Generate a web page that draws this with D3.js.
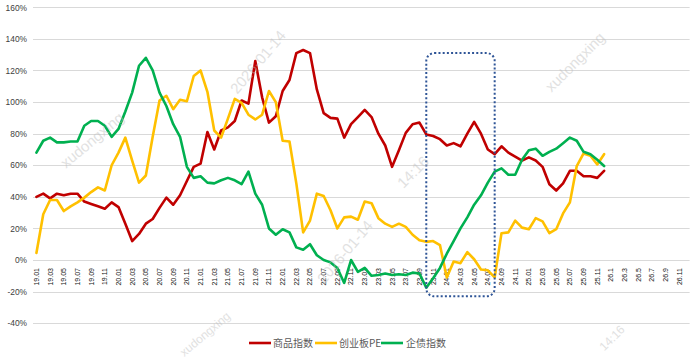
<!DOCTYPE html>
<html><head><meta charset="utf-8">
<script src="https://cdn.jsdelivr.net/npm/d3@7"></script>
<style>body{margin:0;background:#fff}svg{display:block}</style>
</head><body><svg id="c" width="695" height="360"></svg>
<script>
// ---- data ----
const seriesNames = ["商品指数", "创业板PE", "企债指数"];
const seriesColors = ["#C00000", "#FFC000", "#00B050"];
// monthly values (%), 2019-01 .. 2025-12
const commodity = [40,42,39,42,41,42,42,37,35.5,34,32.5,36.5,
  33.5,23,12,16.5,23,26,33,39.5,35,41,50,59,
  61,81,70,82,84,88,101,99,126,103,87,91,
  107,114,131,133,131,108,93,90,89.5,77.5,86,90.5,
  95,90.5,80,72.5,59,69.5,80.5,86,87,79.5,78.5,76.5,
  72.5,74,72,80,87.5,80,70,67,72,68,65.5,63,
  65,63,59,48,44,48.5,56.5,56.5,53,53,52,56.5];
const gemPE = [4.5,29,38,38,31,34,36.5,39.5,43,46,44,60,
  68,77.5,63,49,53.5,78,101,104,95.5,101.5,100.5,116.5,
  120,106.5,82,77.5,89.5,102,99.5,92,89,92,107,100,
  75.5,75,48.5,17.5,25,42,40.5,31.5,20,27,27.5,25.5,
  37,36,26.5,23,21,23,21,16,12.5,11.5,12,9.5,
  -11,-1,-2,5,0.5,-6,-6.5,-11,17,17.5,25,20.5,
  19.5,26.5,24.5,17,19.5,29.5,36.5,59.5,67.5,66,60.5,67];
const corpBond = [68,75.5,77.5,74.5,74.5,75,75,85,88,88,85,78,
  83,94,106,123,128,120,106,97.5,86,78,59,52,
  53,49,48.5,50.5,52,50.5,48,56,42,35,20,16,
  19.5,17.5,8,6.5,10,3,0,-1.5,-5,-14.5,0,-7.5,
  -5,-10,-9.5,-8.5,-9.5,-9,-9.5,-8,-8.5,-17.5,-11.5,-5,
  4,12,20,27,35,41,49,56,58,54,54,63.5,
  69.5,70.5,66,68.5,70.5,74,77.5,75.5,68.5,67,63.5,59.5];
const yTicks = [-40,-20,0,20,40,60,80,100,120,140,160];
const tickLabels = ["19.01","19.03","19.05","19.07","19.09","19.11",
  "20.01","20.03","20.05","20.07","20.09","20.11",
  "21.01","21.03","21.05","21.07","21.09","21.11",
  "22.01","22.03","22.05","22.07","22.09","22.11",
  "23.01","23.03","23.05","23.07","23.09","23.11",
  "24.01","24.03","24.05","24.07","24.09","24.11",
  "25.01","25.03","25.05","25.07","25.09","25.11",
  "26.1","26.3","26.5","26.7","26.9","26.11"];
const years = [2019,2020,2021,2022,2023,2024,2025,2026];
const highlight = {from: "2023-10", to: "2024-08", hi: 131, lo: -23};
const watermarks = [
  {t: "xudongxing", x: 92, y: 140, a: -40, s: 15},
  {t: "2026-01-14", x: 258, y: 62, a: -50, s: 15},
  {t: "14:16", x: 413, y: 172, a: -45, s: 15},
  {t: "2026-01-14", x: 345, y: 252, a: -50, s: 15},
  {t: "xudongxing", x: 575, y: 62, a: -45, s: 15},
  {t: "xudongxing", x: 205, y: 334, a: -40, s: 12},
  {t: "14:16", x: 612, y: 338, a: -45, s: 12}
];

// ---- chart ----
(function () {
const categories = [];
years.forEach(yr => { for (let m = 1; m <= 12; m++) categories.push(yr + "-" + String(m).padStart(2, "0")); });

const svg = d3.select("#c");
const pL = 33, pR = 689.6, pT = 7.3, pB = 323.2;
const x = d3.scaleBand().domain(categories).range([pL, pR]).padding(0);
const y = d3.scaleLinear().domain([-40, 160]).range([pB, pT]);
const cx = c => x(c) + x.bandwidth() / 2;

// gridlines
svg.append("g").selectAll("line").data(yTicks).join("line")
  .attr("x1", pL).attr("x2", pR)
  .attr("y1", d => Math.round(y(d)) + 0.5).attr("y2", d => Math.round(y(d)) + 0.5)
  .attr("stroke", "#d9d9d9").attr("stroke-width", 1);

// y labels
const yAxis = d3.axisLeft(y).tickValues(yTicks).tickFormat(d => d + "%").tickSize(0).tickPadding(0);
const gy = svg.append("g").attr("transform", "translate(27,0)").call(yAxis);
gy.select(".domain").remove();
gy.selectAll("text").attr("font-family", "Liberation Sans, Arial, sans-serif")
  .attr("font-size", "8.4px").attr("fill", "#404040");

// x labels
const tickCats = categories.filter((c, i) => i % 2 === 0);
const xAxis = d3.axisBottom(x).tickValues(tickCats)
  .tickFormat(c => tickLabels[categories.indexOf(c) / 2]).tickSize(0).tickPadding(0);
const gx = svg.append("g").attr("transform", `translate(0,${y(0)})`).call(xAxis);
gx.select(".domain").remove();
gx.selectAll("text")
  .attr("font-family", "Liberation Sans, Arial, sans-serif").attr("font-size", "7px").attr("fill", "#111")
  .attr("text-anchor", "end").attr("x", 0).attr("y", 0).attr("dy", "0.35em")
  .attr("transform", "translate(0,8) rotate(-90)");

// lines
const allSeries = [commodity, gemPE, corpBond];
const line = d3.line().x((d, i) => cx(categories[i])).y(d => y(d));
allSeries.forEach((s, k) => {
  svg.append("path").datum(s).attr("d", line)
    .attr("fill", "none").attr("stroke", seriesColors[k]).attr("stroke-width", 2.6)
    .attr("stroke-linejoin", "round").attr("stroke-linecap", "round");
});

// highlight box
const bx0 = cx(highlight.from), bx1 = cx(highlight.to);
svg.append("rect").attr("x", bx0).attr("y", y(highlight.hi))
  .attr("width", bx1 - bx0).attr("height", y(highlight.lo) - y(highlight.hi))
  .attr("rx", 8).attr("ry", 8).attr("fill", "none")
  .attr("stroke", "#2F5597").attr("stroke-width", 2).attr("stroke-dasharray", "2 2.2");

// legend
const legendItems = [{lx: 249, tx: 273}, {lx: 315, tx: 339}, {lx: 381, tx: 406}];
const lg = svg.append("g");
legendItems.forEach((it, k) => {
  lg.append("line").attr("x1", it.lx).attr("x2", it.lx + 22).attr("y1", 343).attr("y2", 343)
    .attr("stroke", seriesColors[k]).attr("stroke-width", 2.6);
  lg.append("text").attr("x", it.tx).attr("y", 343).attr("dy", "0.35em")
    .attr("font-family", "Noto Sans CJK SC, sans-serif").attr("font-size", "10px").attr("fill", "#595959")
    .text(seriesNames[k]);
});

// watermarks
svg.append("g").selectAll("text").data(watermarks).join("text")
  .attr("transform", d => `translate(${d.x},${d.y}) rotate(${d.a})`)
  .attr("text-anchor", "middle").attr("dy", "0.35em")
  .attr("font-family", "Liberation Sans, Arial, sans-serif").attr("font-size", d => d.s + "px")
  .attr("fill", "#bdbdbd").attr("opacity", 0.45).text(d => d.t);
})();
</script></body></html>
